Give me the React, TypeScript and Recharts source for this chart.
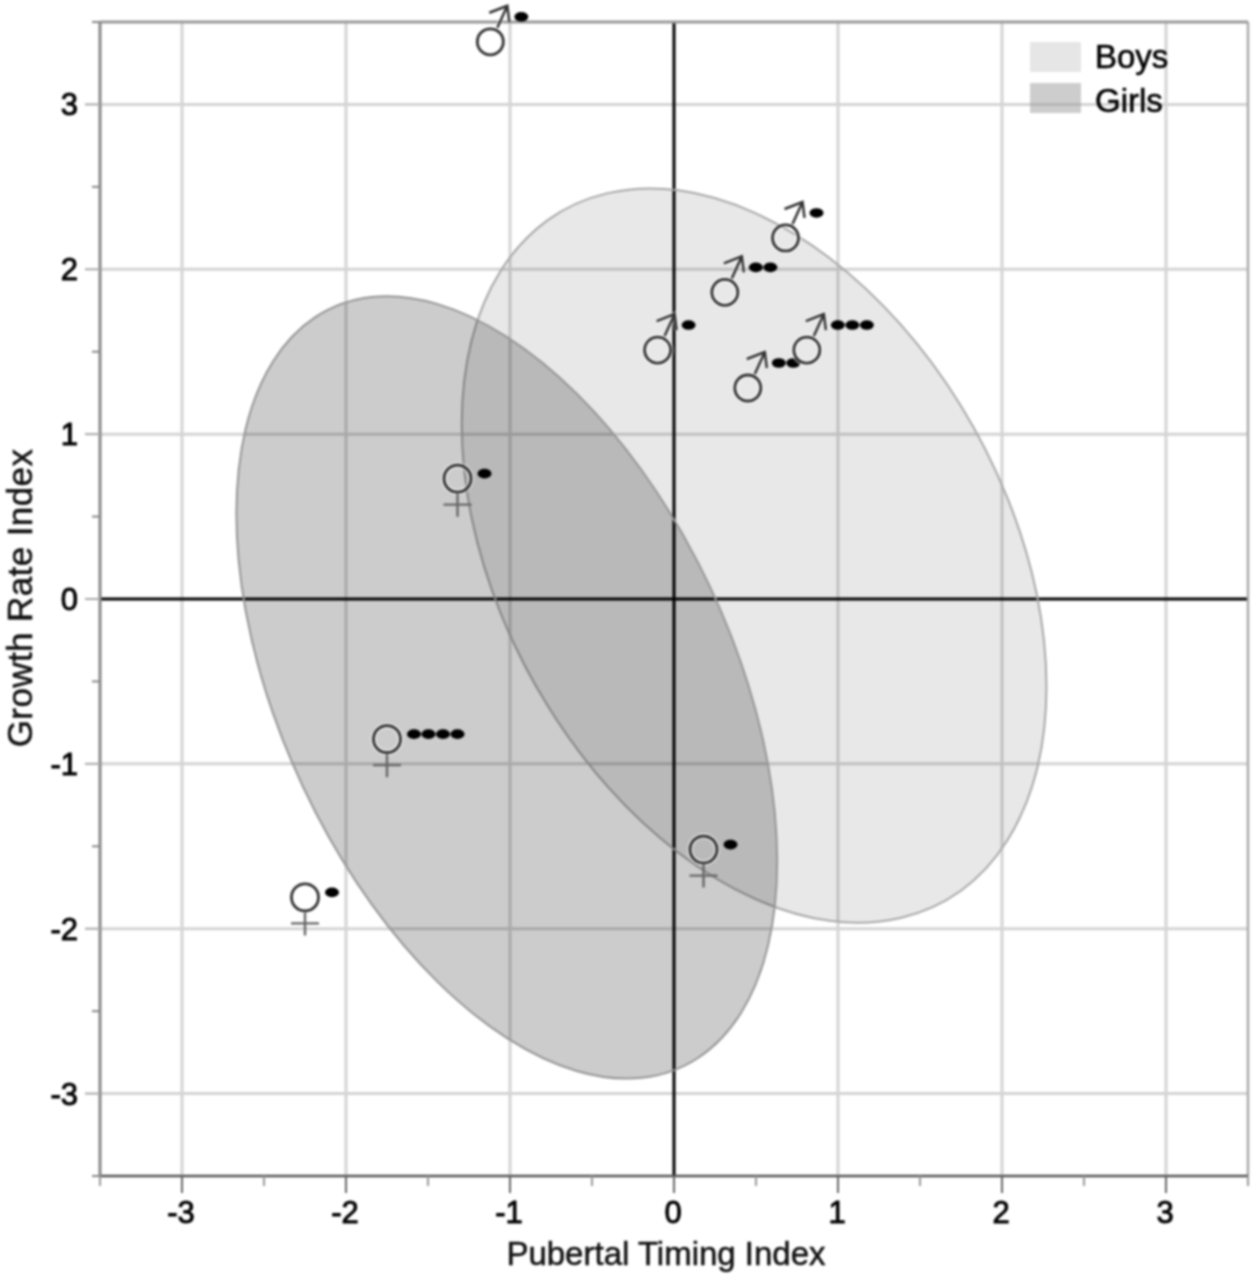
import { ScatterChart, Scatter, XAxis, YAxis, CartesianGrid, ReferenceLine, Legend } from 'recharts';

// Axis values
const axisTicks = [-3.5, -3, -2.5, -2, -1.5, -1, -0.5, 0, 0.5, 1, 1.5, 2, 2.5, 3, 3.5];
const gridValues = [-3, -2, -1, 1, 2, 3];

// Ellipse outlines
const boysOutline = [
  { x: 2.271, y: -0.532 }, { x: 2.211, y: -1.042 }, { x: 2.032, y: -1.465 }, { x: 1.749, y: -1.77 },
  { x: 1.38, y: -1.935 }, { x: 0.95, y: -1.952 }, { x: 0.488, y: -1.816 }, { x: 0.027, y: -1.539 },
  { x: -0.403, y: -1.14 }, { x: -0.772, y: -0.645 }, { x: -1.056, y: -0.088 }, { x: -1.234, y: 0.493 },
  { x: -1.294, y: 1.059 }, { x: -1.234, y: 1.57 }, { x: -1.056, y: 1.992 }, { x: -0.772, y: 2.297 },
  { x: -0.403, y: 2.462 }, { x: 0.027, y: 2.479 }, { x: 0.488, y: 2.344 }, { x: 0.95, y: 2.067 },
  { x: 1.38, y: 1.667 }, { x: 1.749, y: 1.172 }, { x: 2.032, y: 0.615 }, { x: 2.211, y: 0.033 },
];
const girlsOutline = [
  { x: 0.629, y: -1.589 }, { x: 0.573, y: -2.104 }, { x: 0.408, y: -2.511 }, { x: 0.146, y: -2.784 },
  { x: -0.195, y: -2.904 }, { x: -0.593, y: -2.863 }, { x: -1.02, y: -2.662 }, { x: -1.446, y: -2.318 },
  { x: -1.844, y: -1.851 }, { x: -2.185, y: -1.295 }, { x: -2.447, y: -0.688 }, { x: -2.612, y: -0.07 },
  { x: -2.668, y: 0.516 }, { x: -2.612, y: 1.032 }, { x: -2.447, y: 1.438 }, { x: -2.185, y: 1.711 },
  { x: -1.844, y: 1.832 }, { x: -1.446, y: 1.79 }, { x: -1.02, y: 1.59 }, { x: -0.593, y: 1.245 },
  { x: -0.195, y: 0.778 }, { x: 0.146, y: 0.222 }, { x: 0.408, y: -0.385 }, { x: 0.573, y: -1.002 },
];

// Marked points, stars = number of asterisks next to the symbol
const boysPoints = [
  { x: -1.12, y: 3.38, stars: 1 },
  { x: -0.1, y: 1.51, stars: 1 },
  { x: 0.31, y: 1.86, stars: 2 },
  { x: 0.68, y: 2.19, stars: 1 },
  { x: 0.45, y: 1.28, stars: 2 },
  { x: 0.81, y: 1.51, stars: 3 },
];
const girlsPoints = [
  { x: -1.32, y: 0.73, stars: 1 },
  { x: -1.75, y: -0.85, stars: 4 },
  { x: -2.25, y: -1.81, stars: 1 },
  { x: 0.18, y: -1.52, stars: 1 },
];

const FONT = '"Liberation Sans", Arial, sans-serif';
const legendFill: Record<string, string> = { Boys: '#e6e6e6', Girls: 'rgba(150,150,150,0.48)' };

// closed smooth path through the outline points
function closedPath(pts: { x: number; y: number }[]) {
  const n = pts.length;
  let d = `M${pts[0].x},${pts[0].y}`;
  for (let i = 0; i < n; i++) {
    const p0 = pts[(i + n - 1) % n];
    const p1 = pts[i];
    const p2 = pts[(i + 1) % n];
    const p3 = pts[(i + 2) % n];
    d += `C${p1.x + (p2.x - p0.x) / 6},${p1.y + (p2.y - p0.y) / 6} ${p2.x - (p3.x - p1.x) / 6},${p2.y - (p3.y - p1.y) / 6} ${p2.x},${p2.y}`;
  }
  return d + 'Z';
}

const outlineShape = (fill: string, stroke: string) => (p: any) =>
  <path d={closedPath(p.points)} fill={fill} stroke={stroke} strokeWidth={2} />;

const NoDot = () => <g />;

function Stars({ x, y, count }: { x: number; y: number; count: number }) {
  return (
    <g>
      {Array.from({ length: count }).map((_, i) => (
        <ellipse key={i} cx={x + i * 14.5} cy={y} rx={7} ry={4.8} fill="#000" />
      ))}
    </g>
  );
}

function MaleMark({ cx, cy, payload }: any) {
  const arrow = `M${cx + 7} ${cy - 14}L${cx + 17} ${cy - 36}M${cx - 1} ${cy - 29}L${cx + 17} ${cy - 36}L${cx + 19} ${cy - 20}`;
  return (
    <g fill="none">
      <circle cx={cx} cy={cy} r={13} stroke="#fff" strokeOpacity={0.45} strokeWidth={6} />
      <path d={arrow} stroke="#fff" strokeOpacity={0.4} strokeWidth={5} />
      <circle cx={cx} cy={cy} r={13} stroke="#333" strokeWidth={2.8} />
      <path d={arrow} stroke="#333" strokeWidth={2.5} />
      <Stars x={cx + 31} y={cy - 25} count={payload.stars} />
    </g>
  );
}

function FemaleMark({ cx, cy, payload }: any) {
  return (
    <g fill="none">
      <circle cx={cx} cy={cy} r={13.5} stroke="#fff" strokeOpacity={0.45} strokeWidth={6} />
      <circle cx={cx} cy={cy} r={13.5} stroke="#333" strokeWidth={2.8} />
      <path d={`M${cx} ${cy + 15}L${cx} ${cy + 38}M${cx - 14} ${cy + 26}L${cx + 14} ${cy + 26}`} stroke="#666" strokeWidth={2.4} />
      <Stars x={cx + 27} y={cy - 5} count={payload.stars} />
    </g>
  );
}

function XTick({ x, y, payload }: any) {
  const major = Number.isInteger(payload.value);
  return (
    <g>
      <line x1={x} x2={x} y1={y} y2={y + (major ? 17 : 10)} stroke={major ? '#666' : '#999'} strokeWidth={2} />
      {major && (
        <text x={x - 1} y={y + 47} textAnchor="middle" fontSize={31} fontFamily={FONT} fill="#000" stroke="#000" strokeWidth={0.9}>
          {payload.value}
        </text>
      )}
    </g>
  );
}

function YTick({ x, y, payload }: any) {
  const major = Number.isInteger(payload.value);
  return (
    <g>
      <line x1={x - (major ? 15 : 8)} x2={x} y1={y} y2={y} stroke={major ? '#aaa' : '#888'} strokeWidth={2} />
      {major && (
        <text x={x - 22} y={y + 11} textAnchor="end" fontSize={31} fontFamily={FONT} fill="#000" stroke="#000" strokeWidth={0.9}>
          {payload.value}
        </text>
      )}
    </g>
  );
}

function YTitle({ viewBox }: any) {
  const bx = viewBox.x + 32;
  const cy = viewBox.y + viewBox.height / 2 - 1;
  return (
    <text x={bx} y={cy} transform={`rotate(-90 ${bx} ${cy})`} textAnchor="middle" fontSize={35} letterSpacing={0.4} fontFamily={FONT} fill="#111" stroke="#111" strokeWidth={0.5}>
      Growth Rate Index
    </text>
  );
}

function LegendBox({ payload }: any) {
  return (
    <div style={{ fontFamily: FONT, fontSize: 33, color: '#000', WebkitTextStroke: '0.6px #000' }}>
      {(payload || []).filter((e: any) => legendFill[e.value]).map((e: any) => (
        <div key={e.value} style={{ display: 'flex', alignItems: 'center', height: 41 }}>
          <div style={{ width: 51, height: 30, background: legendFill[e.value], marginRight: 14 }} />
          <span style={{ position: 'relative', top: e.value === 'Girls' ? 3 : 0 }}>{e.value}</span>
        </div>
      ))}
    </div>
  );
}

export default function App() {
  return (
    <div style={{ position: 'absolute', left: 0, top: 0, width: 1260, height: 1284, background: '#fff', filter: 'blur(0.9px)' }}>
      <ScatterChart width={1260} height={1284} margin={{ top: 22, right: 12, left: 0, bottom: 0 }}>
        <CartesianGrid stroke="#d4d4d4" strokeWidth={3} horizontalValues={gridValues} verticalValues={gridValues} />
        <XAxis
          type="number"
          dataKey="x"
          domain={[-3.5, 3.5]}
          ticks={axisTicks}
          interval={0}
          height={108}
          tickSize={0}
          tickMargin={0}
          tickLine={false}
          tick={XTick}
          stroke="#555"
          strokeWidth={2.5}
          label={{ value: 'Pubertal Timing Index', position: 'insideBottom', offset: 19, dx: -8, fontSize: 33, fontFamily: FONT, fill: '#111', stroke: '#111', strokeWidth: 0.5 }}
        />
        <YAxis
          type="number"
          dataKey="y"
          domain={[-3.5, 3.5]}
          ticks={axisTicks}
          interval={0}
          width={100}
          tickSize={0}
          tickMargin={0}
          tickLine={false}
          tick={YTick}
          stroke="#888"
          strokeWidth={3}
          label={YTitle}
        />
        <Legend
          layout="horizontal"
          verticalAlign="middle"
          align="center"
          itemSorter={null}
          content={LegendBox}
          wrapperStyle={{ position: 'absolute', left: 1030, top: 36, width: 180 }}
        />
        <Scatter name="Boys" data={boysOutline} line={outlineShape('rgba(0,0,0,0.09)', '#a8a8a8')} shape={NoDot} isAnimationActive={false} />
        <Scatter name="Girls" data={girlsOutline} line={outlineShape('rgba(0,0,0,0.2)', '#969696')} shape={NoDot} isAnimationActive={false} />
        <ReferenceLine x={0} stroke="#000" strokeWidth={3} />
        <ReferenceLine y={0} stroke="#000" strokeWidth={3} />
        <ReferenceLine x={3.5} stroke="#aaa" strokeWidth={2.5} />
        <ReferenceLine y={3.5} stroke="#999" strokeWidth={3} />
        <Scatter name="Boys marks" data={boysPoints} shape={MaleMark} legendType="none" isAnimationActive={false} />
        <Scatter name="Girls marks" data={girlsPoints} shape={FemaleMark} legendType="none" isAnimationActive={false} />
      </ScatterChart>
    </div>
  );
}
